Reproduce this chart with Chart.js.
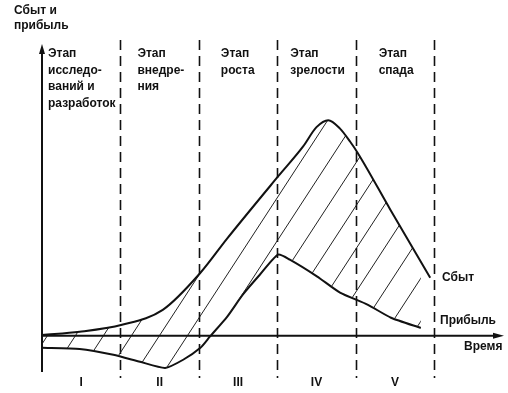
<!DOCTYPE html>
<html>
<head>
<meta charset="utf-8">
<script src="https://cdn.jsdelivr.net/npm/chart.js@4/dist/chart.umd.min.js"></script>
<style>
  html, body { margin: 0; padding: 0; background: #fff; }
  #wrap { width: 508px; height: 393px; }
</style>
</head>
<body>
<div id="wrap"><canvas id="c" width="508" height="393"></canvas></div>
<script>
// ---- data (time in stage units, value in relative units) ----
const salesTime    = [0, 0.48, 1.02, 1.54, 2.02, 2.36, 3.01, 3.33, 3.50, 3.65, 3.80, 3.93, 4.02, 4.44, 4.95];
const salesValues  = [0.3, 1.4, 3.8, 8.9, 21.6, 33.3, 54.6, 64.9, 71.5, 73.9, 71.0, 66.5, 62.9, 43.3, 19.9];
const profitTime   = [0, 0.48, 0.91, 1.25, 1.57, 1.80, 2.02, 2.14, 2.36, 2.56, 2.78, 3.01, 3.16, 3.51, 3.80, 4.15, 4.45, 4.83];
const profitValues = [-4.1, -4.5, -6.5, -8.9, -11.0, -8.2, -4.1, -0.3, 6.5, 14.1, 21.0, 27.8, 26.1, 20.3, 14.8, 10.7, 6.2, 2.7];
const stageBounds  = [1, 2, 3, 4, 5];
const stageTitles  = [
  ['Этап', 'исследо-', 'ваний и', 'разработок'],
  ['Этап', 'внедре-', 'ния'],
  ['Этап', 'роста'],
  ['Этап', 'зрелости'],
  ['Этап', 'спада']
];
const romanLabels  = ['I', 'II', 'III', 'IV', 'V'];
const yAxisTitle   = ['Сбыт и', 'прибыль'];
const xAxisTitle   = 'Время';
const salesLabel   = 'Сбыт';
const profitLabel  = 'Прибыль';

// ---- hatch pattern ----
function makeHatch() {
  const w = 28, h = 43;
  const c = document.createElement('canvas');
  c.width = w; c.height = h;
  const g = c.getContext('2d');
  g.strokeStyle = '#222';
  g.lineWidth = 1;
  for (let k = -1; k <= 1; k++) {
    g.beginPath();
    g.moveTo(k * w, h);
    g.lineTo(k * w + w, 0);
    g.stroke();
  }
  const ctx = document.getElementById('c').getContext('2d');
  const p = ctx.createPattern(c, 'repeat');
  if (p.setTransform) p.setTransform(new DOMMatrix().translate(14, 0));
  return p;
}

const FONT = 'bold 12px "Liberation Sans", Arial, sans-serif';
const INK = '#111';

const decor = {
  id: 'decor',
  beforeDatasetsDraw(chart) {
    const { ctx, scales: { x, y } } = chart;
    ctx.save();
    ctx.strokeStyle = INK;
    ctx.lineWidth = 1.6;
    ctx.setLineDash([10, 6]);
    const top = y.getPixelForValue(100) - 4;
    const bot = y.getPixelForValue(-12.4) + 6;
    stageBounds.forEach(b => {
      const px = Math.round(x.getPixelForValue(b)) + 0.5;
      ctx.beginPath();
      ctx.moveTo(px, top);
      ctx.lineTo(px, bot);
      ctx.stroke();
    });
    ctx.restore();
  },
  afterDatasetsDraw(chart) {
    const { ctx, scales: { x, y } } = chart;
    ctx.save();
    ctx.strokeStyle = INK;
    ctx.fillStyle = INK;
    ctx.lineWidth = 2;
    const x0 = x.getPixelForValue(0), y0 = y.getPixelForValue(0);
    const yTop = y.getPixelForValue(100), yBot = y.getPixelForValue(-12.4);
    const xEnd = x.getPixelForValue(x.max) + 4;
    // y axis
    ctx.beginPath(); ctx.moveTo(x0, yBot); ctx.lineTo(x0, yTop + 6); ctx.stroke();
    ctx.beginPath(); ctx.moveTo(x0, yTop); ctx.lineTo(x0 - 3, yTop + 10); ctx.lineTo(x0 + 3, yTop + 10); ctx.closePath(); ctx.fill();
    // x axis
    ctx.beginPath(); ctx.moveTo(x0, y0); ctx.lineTo(xEnd - 6, y0); ctx.stroke();
    ctx.beginPath(); ctx.moveTo(xEnd, y0); ctx.lineTo(xEnd - 11, y0 - 3); ctx.lineTo(xEnd - 11, y0 + 3); ctx.closePath(); ctx.fill();

    // texts
    ctx.font = FONT;
    ctx.textBaseline = 'middle';
    ctx.textAlign = 'left';
    ctx.fillText(yAxisTitle[0], 14, 11);
    ctx.fillText(yAxisTitle[1], 14, 26);

    const starts = [0, 1, 2, 3, 4];
    const offs = [6, 17, 22, 13, 23];
    stageTitles.forEach((lines, i) => {
      const px = x.getPixelForValue(starts[i]) + offs[i];
      lines.forEach((t, j) => ctx.fillText(t, px, 54 + j * 16.5));
    });

    ctx.textAlign = 'center';
    romanLabels.forEach((r, i) => {
      ctx.fillText(r, x.getPixelForValue(starts[i] + 0.5), 383);
    });

    ctx.textAlign = 'left';
    ctx.fillText(salesLabel, 442, 278);
    ctx.fillText(profitLabel, 440, 321);
    ctx.fillText(xAxisTitle, 464, 347);
    ctx.restore();
  }
};

const hatch = makeHatch();

new Chart(document.getElementById('c'), {
  type: 'line',
  data: {
    datasets: [
      {
        label: salesLabel,
        data: salesTime.map((t, i) => ({ x: t, y: salesValues[i] })),
        borderColor: INK,
        borderWidth: 2,
        pointRadius: 0,
        cubicInterpolationMode: 'monotone',
        fill: '+1',
        backgroundColor: hatch
      },
      {
        label: profitLabel,
        data: profitTime.map((t, i) => ({ x: t, y: profitValues[i] })),
        borderColor: INK,
        borderWidth: 2,
        pointRadius: 0,
        tension: 0.2,
        fill: false
      }
    ]
  },
  options: {
    responsive: false,
    devicePixelRatio: 1,
    animation: false,
    layout: { padding: { left: 42, right: 8, top: 44, bottom: 21 } },
    scales: {
      x: { type: 'linear', min: 0, max: 5.84, display: false },
      y: { type: 'linear', min: -12.4, max: 100, display: false }
    },
    plugins: { legend: { display: false }, tooltip: { enabled: false } }
  },
  plugins: [decor]
});
</script>
</body>
</html>
